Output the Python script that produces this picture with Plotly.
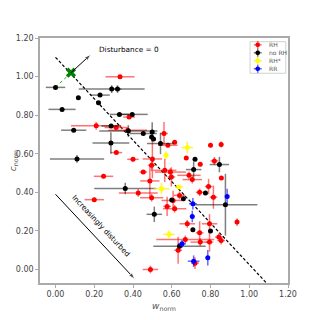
import plotly.graph_objects as go

# RH
rh_w = [0.333, 0.38, 0.21, 0.313, 0.373, 0.314, 0.40, 0.50, 0.56, 0.58, 0.615, 0.80, 0.855, 0.675,
        0.747, 0.82, 0.856, 0.453, 0.564, 0.593, 0.598, 0.487, 0.689, 0.706, 0.79, 0.744, 0.815,
        0.427, 0.496, 0.607, 0.64, 0.576, 0.615, 0.68, 0.937, 0.795, 0.744, 0.747, 0.795, 0.843,
        0.855, 0.67, 0.633, 0.72, 0.49, 0.248, 0.20, 0.496]
rh_c = [0.999, 0.79, 0.745, 0.736, 0.722, 0.606, 0.571, 0.573, 0.705, 0.644, 0.66, 0.644, 0.648, 0.578,
        0.545, 0.563, 0.474, 0.505, 0.514, 0.505, 0.48, 0.459, 0.488, 0.466, 0.43, 0.40, 0.375,
        0.397, 0.372, 0.358, 0.384, 0.327, 0.315, 0.237, 0.246, 0.237, 0.19, 0.142, 0.142, 0.168,
        0.15, 0.156, 0.10, 0.033, 0.0, 0.483, 0.362, 0.54]
rh_werr = [0.075, 0.03, 0.13, 0.06, 0.10, 0.03, 0.03, 0.05, 0.02, 0.05, 0.01, 0.01, 0.01, 0.01,
           0.01, 0.02, 0.01, 0.02, 0.06, 0.08, 0.02, 0.05, 0.06, 0.05, 0.02, 0.02, 0.02,
           0.10, 0.06, 0.06, 0.03, 0.02, 0.06, 0.04, 0.01, 0.04, 0.02, 0.05, 0.02, 0.02,
           0.02, 0.15, 0.02, 0.02, 0.04, 0.05, 0.05, 0.02]
rh_cerr = [0.005, 0.01, 0.02, 0.01, 0.01, 0.01, 0.01, 0.10, 0.06, 0.01, 0.01, 0.01, 0.015, 0.01,
           0.01, 0.02, 0.01, 0.01, 0.06, 0.02, 0.05, 0.08, 0.02, 0.02, 0.04, 0.02, 0.06,
           0.02, 0.02, 0.05, 0.02, 0.05, 0.02, 0.02, 0.02, 0.05, 0.06, 0.02, 0.05, 0.02,
           0.02, 0.02, 0.07, 0.03, 0.02, 0.01, 0.01, 0.03]

# no RH
nrh_w = [0.00, 0.29, 0.32, 0.118, 0.23, 0.222, 0.034, 0.33, 0.396, 0.094, 0.287, 0.376, 0.286, 0.111,
         0.453, 0.499, 0.496, 0.506, 0.542, 0.72, 0.713, 0.846, 0.774, 0.877, 0.709, 0.80, 0.36,
         0.60, 0.66, 0.51, 0.64]
nrh_c = [0.944, 0.935, 0.935, 0.89, 0.904, 0.864, 0.83, 0.804, 0.804, 0.722, 0.744, 0.718, 0.656, 0.573,
         0.705, 0.713, 0.687, 0.677, 0.653, 0.571, 0.518, 0.544, 0.397, 0.336, 0.206, 0.20, 0.42,
         0.36, 0.367, 0.286, 0.12]
nrh_werr = [0.05, 0.17, 0.02, 0.005, 0.05, 0.01, 0.07, 0.05, 0.08, 0.065, 0.05, 0.15, 0.095, 0.14,
            0.07, 0.01, 0.01, 0.01, 0.07, 0.01, 0.04, 0.05, 0.01, 0.165, 0.01, 0.01, 0.16,
            0.01, 0.01, 0.04, 0.135]
nrh_cerr = [0.005, 0.02, 0.02, 0.005, 0.005, 0.005, 0.005, 0.01, 0.01, 0.005, 0.01, 0.03, 0.056, 0.02,
            0.005, 0.05, 0.01, 0.01, 0.055, 0.01, 0.04, 0.04, 0.01, 0.16, 0.01, 0.01, 0.03,
            0.01, 0.01, 0.04, 0.01]

# RH*
rhs_w = [0.68, 0.57, 0.547, 0.637, 0.586]
rhs_c = [0.632, 0.592, 0.419, 0.428, 0.182]
rhs_werr = [0.03, 0.01, 0.04, 0.02, 0.03]
rhs_cerr = [0.03, 0.02, 0.03, 0.01, 0.02]

# RR
rr_w = [0.886, 0.709, 0.706, 0.653, 0.713, 0.786]
rr_c = [0.379, 0.341, 0.275, 0.133, 0.043, 0.061]
rr_werr = [0.01, 0.02, 0.01, 0.02, 0.03, 0.01]
rr_cerr = [0.04, 0.03, 0.03, 0.02, 0.03, 0.04]

# reference lines / markers
zero_w, zero_c = 0.08, 1.02
green_w = [0.0, 0.08]
green_c = [0.945, 1.02]
dash_w = [0.0, 1.087]
dash_c = [1.10, -0.068]
arrow0_w = [0.08, 0.183]
arrow0_c = [1.02, 1.115]
arrow1_w = [0.0, 0.41]
arrow1_c = [0.39, -0.05]

fig = go.Figure()

groups = [
    ("RH", rh_w, rh_c, rh_werr, rh_cerr, "red", "rgba(255,0,0,0.55)"),
    ("no RH", nrh_w, nrh_c, nrh_werr, nrh_cerr, "black", "rgba(0,0,0,0.5)"),
    ("RH*", rhs_w, rhs_c, rhs_werr, rhs_cerr, "yellow", "rgba(255,235,0,0.7)"),
    ("RR", rr_w, rr_c, rr_werr, rr_cerr, "blue", "rgba(0,0,255,0.6)"),
]

fig.add_trace(go.Scatter(x=dash_w, y=dash_c, mode="lines", showlegend=False,
                         line=dict(color="black", width=1.2, dash="3px,2px")))
fig.add_trace(go.Scatter(x=green_w, y=green_c, mode="lines", showlegend=False,
                         line=dict(color="#2ca02c", width=1, dash="dot")))

for name, w, c, we, ce, col, ecol in groups:
    fig.add_trace(go.Scatter(
        x=w, y=c, mode="markers", name=name, showlegend=False,
        marker=dict(color=col, size=5, line=dict(width=0)),
        error_x=dict(type="data", array=we, color=ecol, thickness=1.5, width=0),
        error_y=dict(type="data", array=ce, color=ecol, thickness=1.5, width=0),
    ))

fig.add_trace(go.Scatter(x=[zero_w], y=[zero_c], mode="markers", showlegend=False,
                         marker=dict(symbol="x", color="green", size=9, line=dict(width=0))))

# arrows as lines ending in an arrow marker
for aw, ac in [(arrow0_w, arrow0_c), (arrow1_w, arrow1_c)]:
    fig.add_trace(go.Scatter(x=aw, y=ac, mode="lines+markers", showlegend=False,
                             line=dict(color="black", width=1),
                             marker=dict(symbol="arrow", size=[0, 7], color="black", angleref="previous")))

fig.add_annotation(x=0.215, y=1.14, xref="x", yref="y", text="Disturbance = 0", showarrow=False,
                   xanchor="left", font=dict(size=7.3, color="black"))
fig.add_annotation(x=0.235, y=0.23, xref="x", yref="y", text="Increasingly disturbed", showarrow=False,
                   textangle=47, font=dict(size=7.3, color="black"))

# small legend box drawn by hand (plotly's own legend rows are too tall)
leg_x0, leg_x1, leg_y0, leg_y1 = 0.847, 0.991, 0.856, 0.985
mx, tx, y_first, y_step = 0.878, 0.915, 0.972, 0.0325
dx, dy = 0.016, 0.0165
fig.add_shape(type="rect", xref="paper", yref="paper", x0=leg_x0, x1=leg_x1, y0=leg_y0, y1=leg_y1,
              line=dict(color="#d0d0d0", width=1), fillcolor="white", layer="above")
for i, (name, w, c, we, ce, col, ecol) in enumerate(groups):
    yy = y_first - i * y_step
    fig.add_shape(type="line", xref="paper", yref="paper", x0=mx - dx, x1=mx + dx, y0=yy, y1=yy,
                  line=dict(color=ecol, width=1.5), layer="above")
    fig.add_shape(type="line", xref="paper", yref="paper", x0=mx, x1=mx, y0=yy - dy, y1=yy + dy,
                  line=dict(color=ecol, width=1.5), layer="above")
    fig.add_shape(type="circle", xref="paper", yref="paper", x0=mx - 0.0095, x1=mx + 0.0095,
                  y0=yy - 0.0095, y1=yy + 0.0095, line=dict(width=0), fillcolor=col, layer="above")
    fig.add_annotation(x=tx, y=yy, xref="paper", yref="paper", text=name, showarrow=False,
                       xanchor="left", yanchor="middle", font=dict(size=6, color="#555"))

# page body adds 8px, so margins are shifted to keep the plot area in place
fig.update_layout(
    width=320, height=320,
    margin=dict(l=32, r=40, t=30, b=45),
    paper_bgcolor="white", plot_bgcolor="white",
    font=dict(family="DejaVu Sans", size=8, color="#444"),
    showlegend=False,
    xaxis=dict(range=[-0.08, 1.2], tickvals=[0, 0.2, 0.4, 0.6, 0.8, 1.0, 1.2], tickformat=".2f",
               showgrid=False, zeroline=False, showline=True, linecolor="#aaa", linewidth=1.5,
               mirror=True, ticks="outside", ticklen=3, tickcolor="#aaa", automargin=False,
               title=dict(text="<i>w</i><sub>norm</sub>", standoff=4, font=dict(size=9, color="#555"))),
    yaxis=dict(range=[-0.07, 1.2], tickvals=[0, 0.2, 0.4, 0.6, 0.8, 1.0, 1.2], tickformat=".2f",
               showgrid=False, zeroline=False, showline=True, linecolor="#aaa", linewidth=1.5,
               mirror=True, ticks="outside", ticklen=3, tickcolor="#aaa", automargin=False,
               title=dict(text="<i>c</i><sub>norm</sub>", standoff=4, font=dict(size=9, color="#555"))),
)

fig.write_html("out.html")
